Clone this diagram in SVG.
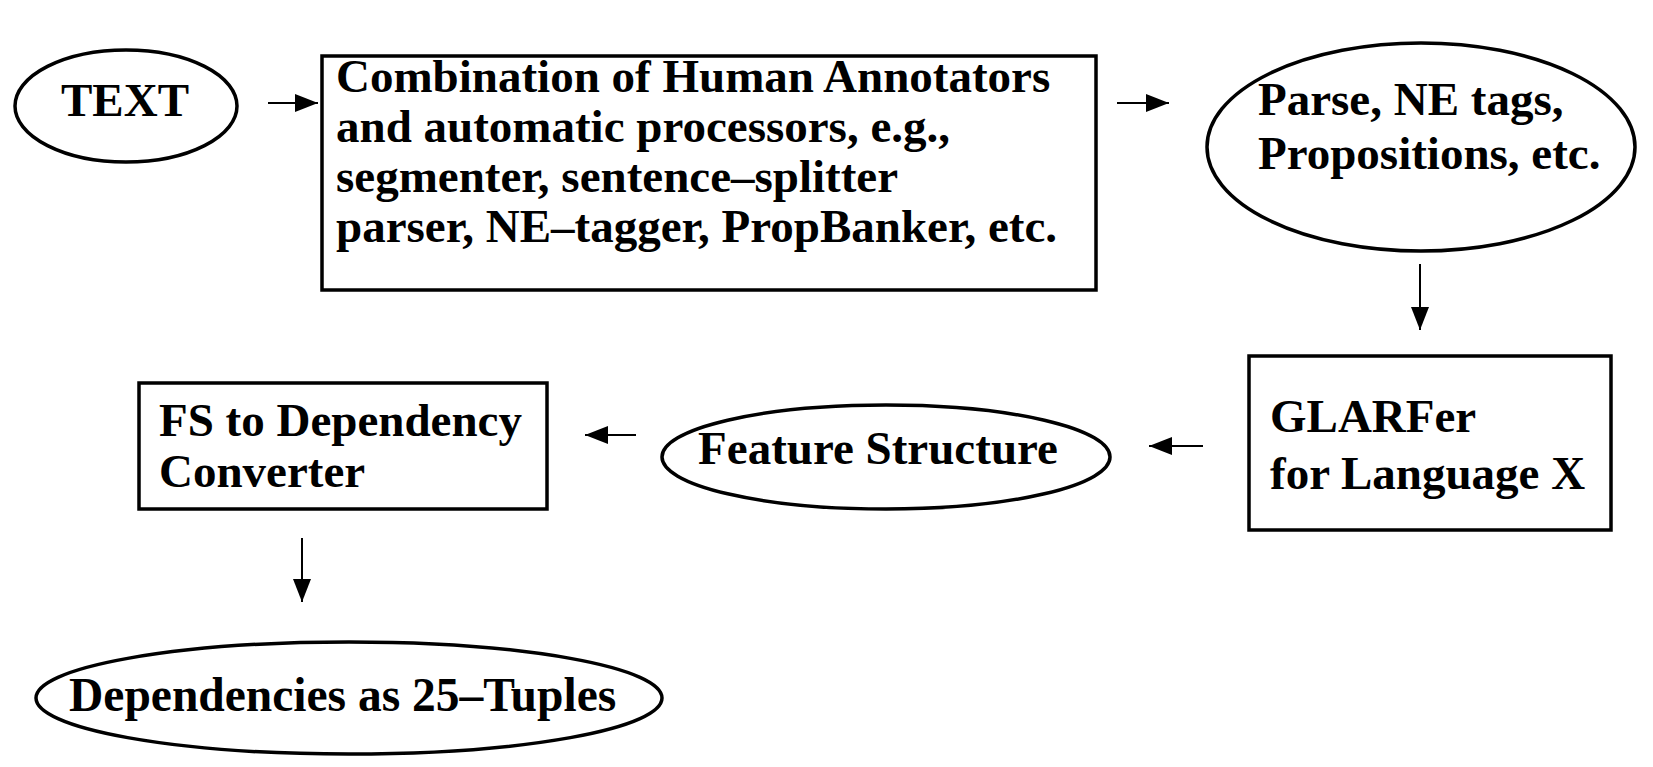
<svg xmlns="http://www.w3.org/2000/svg" width="1653" height="767" viewBox="0 0 1653 767">
<style>
.shape{fill:#fff;stroke:#000;stroke-width:3.5}
.lbl{font-family:"Liberation Serif","Times New Roman",serif;font-weight:bold;font-size:47px;fill:#000}
.conn{stroke:#000;stroke-width:2;fill:none}
</style>
<defs>
<marker id="ah" markerUnits="userSpaceOnUse" markerWidth="26" markerHeight="20" refX="23" refY="9" orient="auto">
<path d="M0,0 L23,9 L0,18 Z" fill="#000"/>
</marker>
</defs>
<rect width="1653" height="767" fill="#fff"/>
<g id="connectors">
<line class="conn" x1="268" y1="103" x2="318" y2="103" marker-end="url(#ah)"/>
<line class="conn" x1="1117" y1="103" x2="1169" y2="103" marker-end="url(#ah)"/>
<line class="conn" x1="1420" y1="264" x2="1420" y2="330" marker-end="url(#ah)"/>
<line class="conn" x1="1203" y1="446" x2="1149" y2="446" marker-end="url(#ah)"/>
<line class="conn" x1="636" y1="435" x2="585" y2="435" marker-end="url(#ah)"/>
<line class="conn" x1="302" y1="538" x2="302" y2="602" marker-end="url(#ah)"/>
</g>
<g id="node-text">
<ellipse class="shape" cx="126" cy="106" rx="111" ry="56"/>
<text class="lbl" x="125" y="116" text-anchor="middle">TEXT</text>
</g>
<g id="node-combination">
<rect class="shape" x="322" y="56" width="774" height="234"/>
<text class="lbl" x="336" y="92">Combination of Human Annotators</text>
<text class="lbl" x="336" y="142">and automatic processors, e.g.,</text>
<text class="lbl" x="336" y="192">segmenter, sentence–splitter</text>
<text class="lbl" x="336" y="242">parser, NE–tagger, PropBanker, etc.</text>
</g>
<g id="node-parse">
<ellipse class="shape" cx="1421" cy="147" rx="214" ry="104"/>
<text class="lbl" x="1258" y="115">Parse, NE tags,</text>
<text class="lbl" x="1258" y="169">Propositions, etc.</text>
</g>
<g id="node-glarfer">
<rect class="shape" x="1249" y="356" width="362" height="174"/>
<text class="lbl" x="1270" y="432">GLARFer</text>
<text class="lbl" x="1270" y="489">for Language X</text>
</g>
<g id="node-feature">
<ellipse class="shape" cx="886" cy="457" rx="224" ry="52"/>
<text class="lbl" x="878" y="464" text-anchor="middle">Feature Structure</text>
</g>
<g id="node-fs">
<rect class="shape" x="139" y="383" width="408" height="126"/>
<text class="lbl" x="159" y="436">FS to Dependency</text>
<text class="lbl" x="159" y="487">Converter</text>
</g>
<g id="node-dependencies">
<ellipse class="shape" cx="349" cy="698" rx="313" ry="56"/>
<text class="lbl" x="69" y="711" style="font-size:47.5px">Dependencies as 25–Tuples</text>
</g>
</svg>
